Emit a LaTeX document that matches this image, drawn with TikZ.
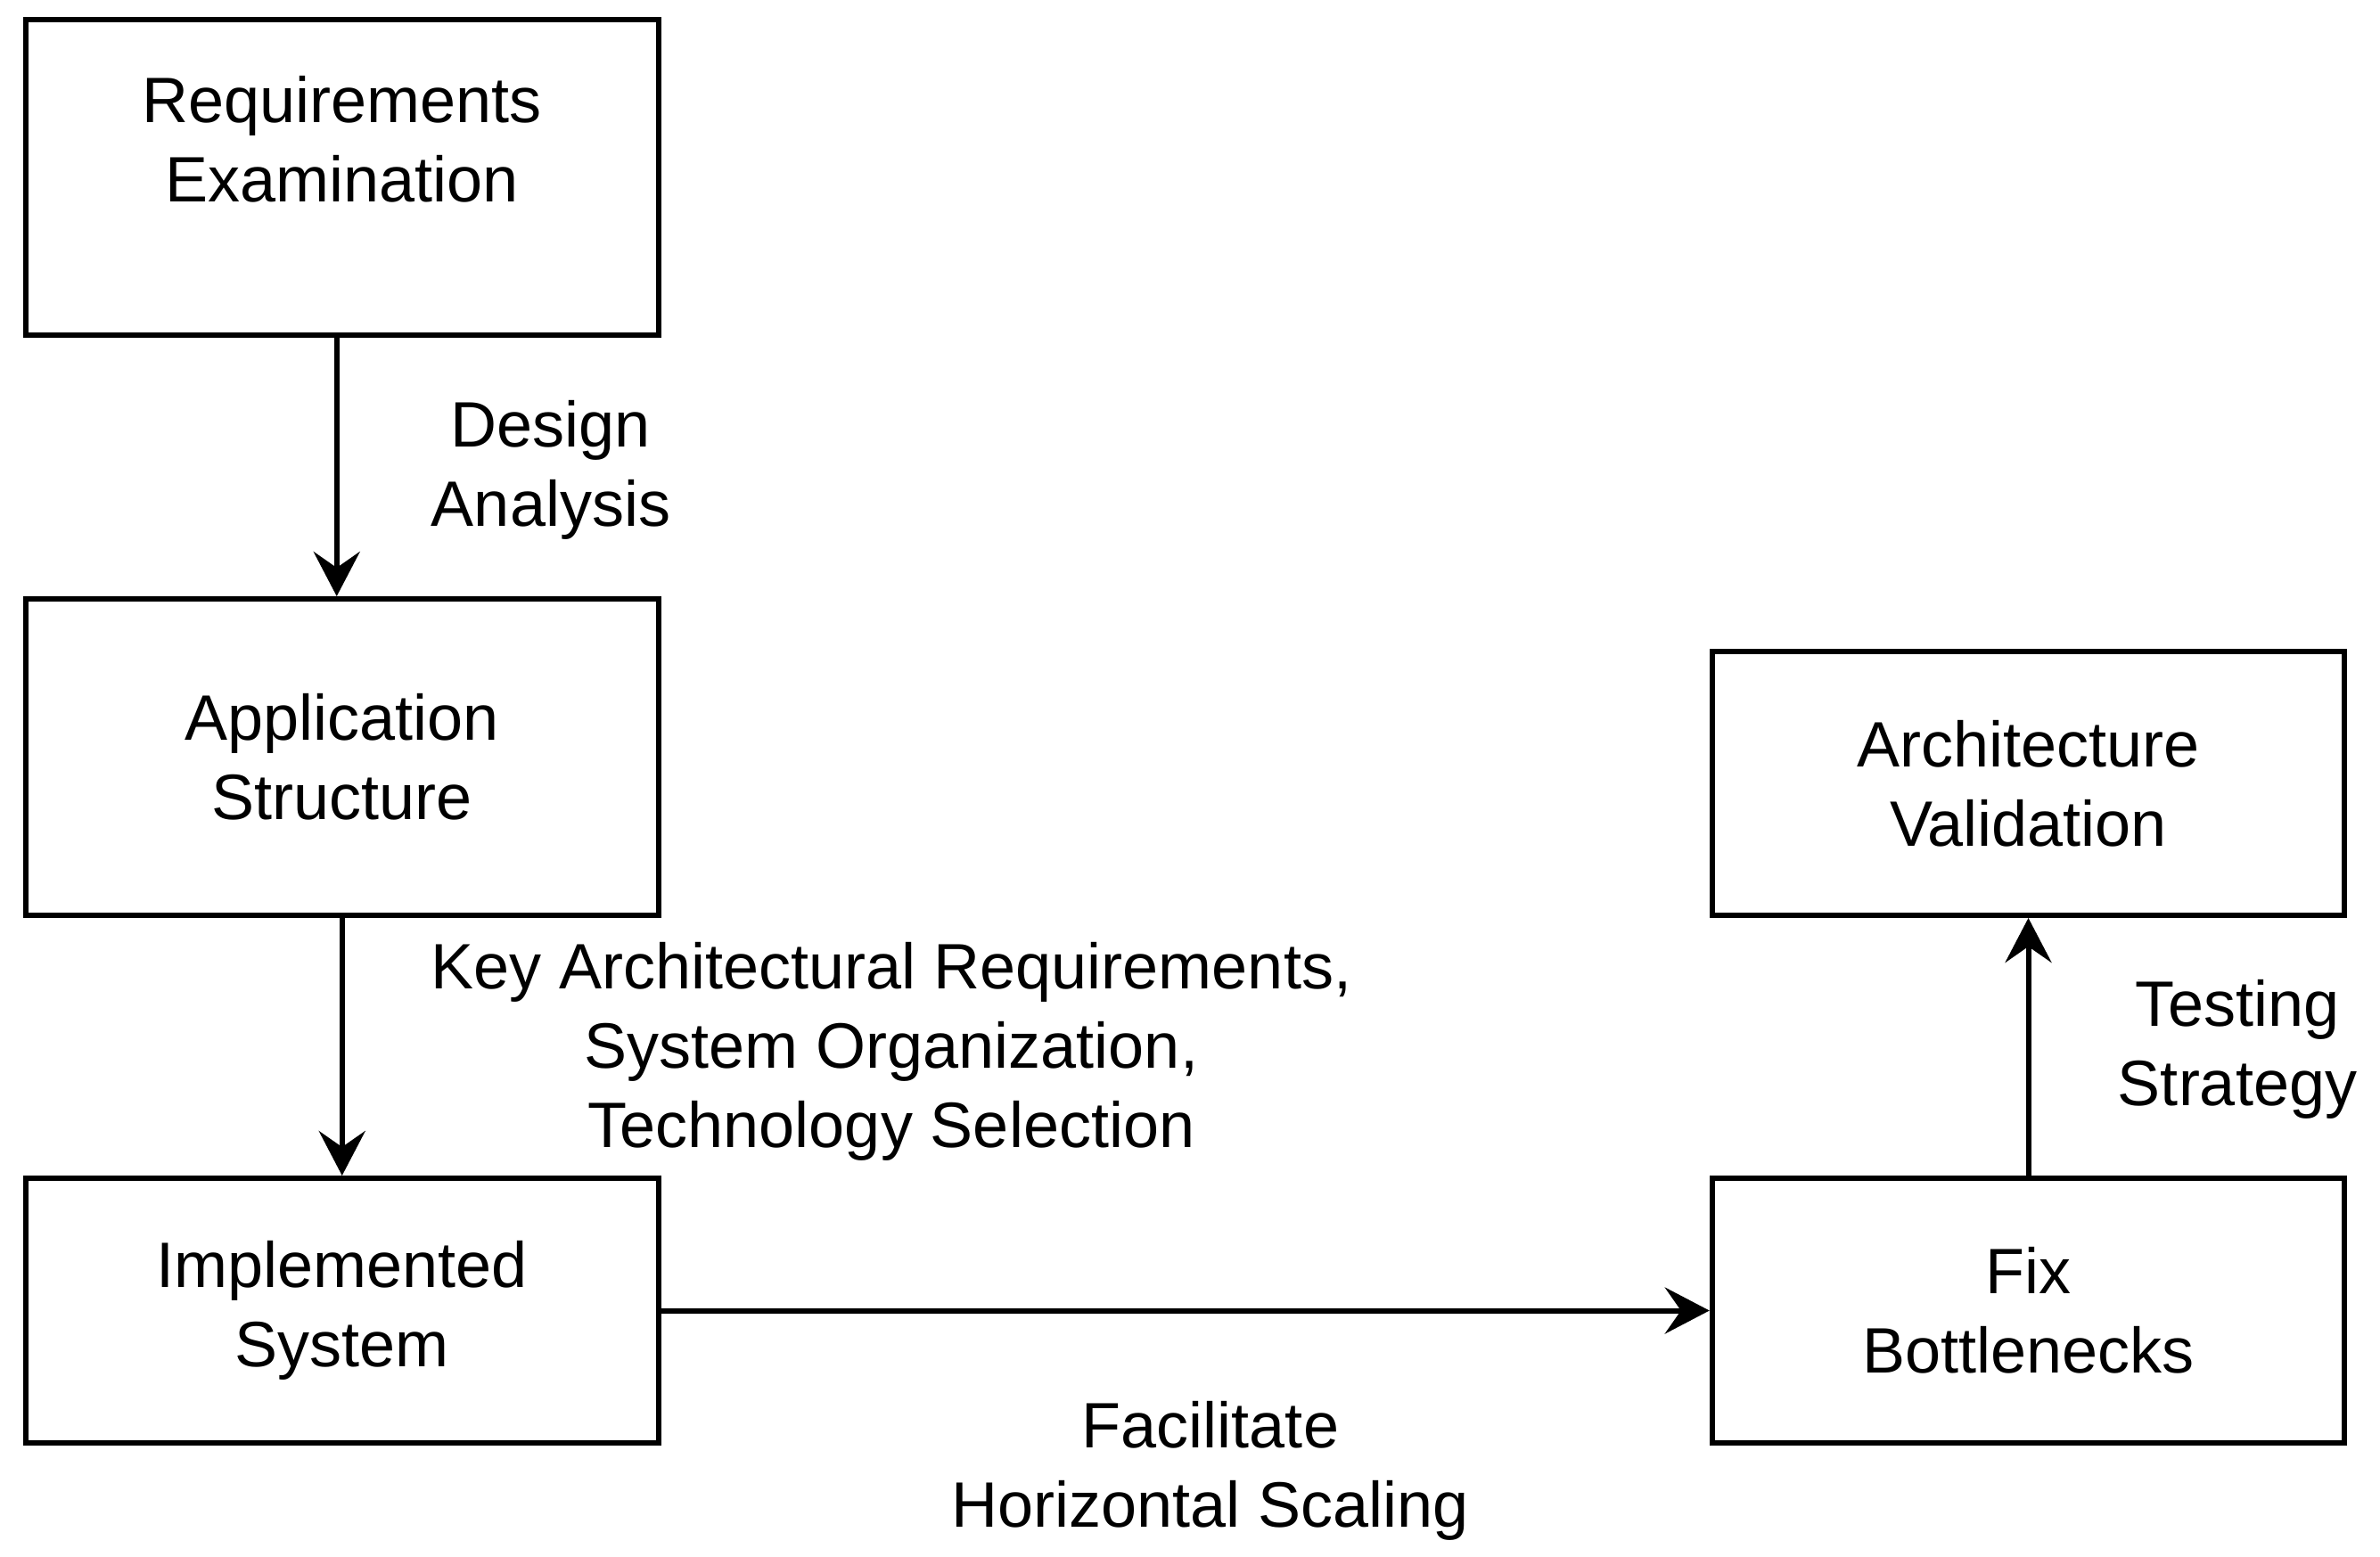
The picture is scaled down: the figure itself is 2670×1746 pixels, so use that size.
\documentclass[tikz,border=0pt]{standalone}
\usepackage{fontspec}
\setmainfont{Liberation Sans}
\usetikzlibrary{arrows.meta}
\begin{document}
\begin{tikzpicture}[x=0.5pt,y=-0.5pt,
  box/.style={draw=black,line width=3pt,minimum width=354.75pt,inner sep=0pt,font=\fontsize{36pt}{44.5pt}\selectfont,align=center},
  txt/.style={inner sep=0pt,font=\fontsize{36pt}{44.5pt}\selectfont,align=center},
  conn/.style={draw=black,line width=3pt,-{Stealth[length=25pt,width=26pt,inset=9pt]}}]
\useasboundingbox (0,0) rectangle (2670,1746);
\node[box,minimum height=177pt] (req) at (383.75,199) {};
\node[txt] (reqt) at (383.75,156) {Requirements\\Examination};
\node[box,minimum height=177.5pt] (app) at (383.75,849.5) {Application\\Structure};
\node[box,minimum height=148.5pt] (imp) at (383.75,1470.5) {Implemented\\System};
\node[box,minimum height=148.5pt] (fix) at (2275.5,1470.5) {Fix\\Bottlenecks};
\node[box,minimum height=148pt] (val) at (2275.5,879) {Architecture\\Validation};
\draw[conn] ([xshift=-3pt]req.south) -- ([xshift=-3pt]app.north);
\draw[conn] (app.south) -- (imp.north);
\draw[conn] (imp.east) -- (fix.west);
\draw[conn] (fix.north) -- (val.south);
\node[txt] (l1) at (618,527) {Design\\Analysis};
\node[txt] (l2) at (1000,1180) {Key Architectural Requirements,\\System Organization,\\Technology Selection};
\node[txt] (l3) at (1358,1650) {Facilitate\\Horizontal Scaling};
\node[txt] (l4) at (2510,1177) {Testing\\Strategy};
\end{tikzpicture}
\end{document}
